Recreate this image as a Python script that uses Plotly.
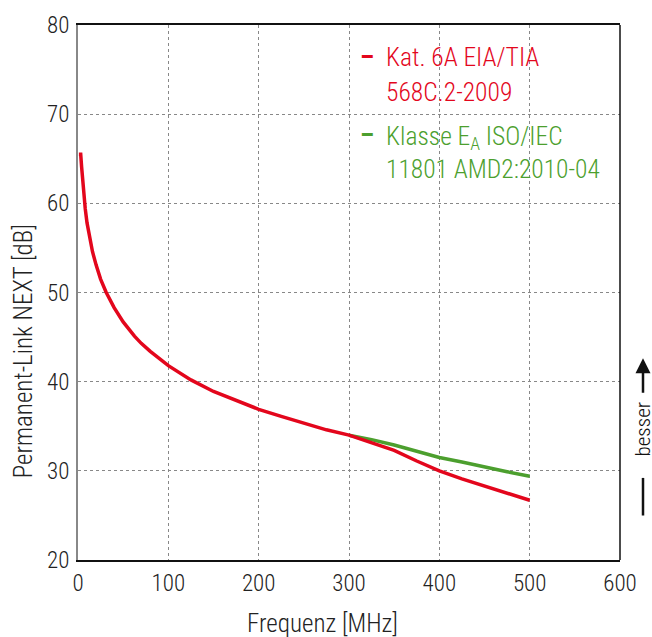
import plotly.graph_objects as go

# Data
freq_red = [1, 3, 4, 5, 6, 8, 10, 12, 16, 20, 25, 31.25, 40, 50, 62.5, 70, 80, 100, 125, 150, 175,
            200, 225, 250, 275, 300, 325, 350, 375, 400, 425, 450, 475, 500]
next_red = [65.5, 65.5, 64.1, 62.7, 61.4, 59.4, 57.8, 56.6, 54.6, 53.1, 51.5, 50.0, 48.3, 46.7, 45.1, 44.3, 43.4, 41.8, 40.2, 38.9, 37.9,
            36.9, 36.1, 35.3, 34.6, 34.0, 33.2, 32.3, 31.1, 30.0, 29.1, 28.3, 27.5, 26.7]
freq_green = [300, 325, 350, 375, 400, 425, 450, 475, 500]
next_green = [34.0, 33.5, 32.9, 32.2, 31.5, 31.0, 30.4, 29.9, 29.4]

x_ticks = [0, 100, 200, 300, 400, 500, 600]
y_ticks = [20, 30, 40, 50, 60, 70, 80]

RED = "#E3061C"
GREEN = "#4C9F2E"
FONT = "Roboto Condensed, Liberation Sans Narrow, sans-serif"
WEIGHT = 300

W, H = 652, 637
L, R, T, B = 78, 32, 19, 77

fig = go.Figure()
fig.add_trace(go.Scatter(x=freq_green, y=next_green, mode="lines",
                         line=dict(color=GREEN, width=3.5), showlegend=False))
fig.add_trace(go.Scatter(x=freq_red, y=next_red, mode="lines",
                         line=dict(color=RED, width=3.5), showlegend=False))

def px2paper(px, py):
    return (px - L) / (W - L - R), (H - B - py) / (H - T - B)

annotations = []
def text_ann(px, py, text, color, size=25.5, xanchor="left", angle=0, weight=WEIGHT):
    x, y = px2paper(px, py)
    annotations.append(dict(x=x, y=y, xref="paper", yref="paper", text=text,
                            showarrow=False, xanchor=xanchor, yanchor="middle",
                            textangle=angle,
                            font=dict(family=FONT, size=size, color=color, weight=weight)))

# legend-like labels
text_ann(358, 51, "–", RED, weight=700)
text_ann(384, 51, "Kat. 6A EIA/TIA", RED)
text_ann(384, 87, "568C.2-2009", RED)
text_ann(358, 130, "–", GREEN, weight=700)
text_ann(384, 133, "Klasse E<sub>A</sub> ISO/IEC", GREEN)
text_ann(384, 165, "11801 AMD2:2010-04", GREEN)

# axis titles
text_ann(322, 624, "Frequenz [MHz]", "#222", size=25, xanchor="center")
text_ann(23, 349, "Permanent-Link NEXT [dB]", "#222", size=25, xanchor="center", angle=-90)

# besser indicator
text_ann(643, 428, "besser", "#111", size=21, xanchor="center", angle=-90)
ax0, ay0 = px2paper(643, 356)
annotations.append(dict(x=ax0, y=ay0, xref="paper", yref="paper", text="",
                        showarrow=True, ax=0, ay=36, arrowhead=2, arrowsize=1.2,
                        arrowwidth=2.5, arrowcolor="#111"))

shapes = []
bx, by0 = px2paper(643, 477)
_, by1 = px2paper(643, 515)
shapes.append(dict(type="line", xref="paper", yref="paper", x0=bx, x1=bx, y0=by0, y1=by1,
                   line=dict(color="#111", width=2.5)))
# right border in black
shapes.append(dict(type="line", xref="paper", yref="paper", x0=1, x1=1, y0=0, y1=1,
                   line=dict(color="#111", width=1.5)))

tickfont = dict(family=FONT, size=23, color="#222", weight=WEIGHT)
fig.update_layout(
    width=W, height=H,
    margin=dict(l=L, r=R, t=T, b=B),
    paper_bgcolor="white", plot_bgcolor="white",
    font=dict(family=FONT, size=23, color="#222", weight=WEIGHT),
    annotations=annotations, shapes=shapes,
    xaxis=dict(range=[0, 600], tickvals=x_ticks, showgrid=True, gridcolor="#888",
               griddash="dot", gridwidth=1, showline=True, linecolor="#111", linewidth=1.5,
               mirror=True, ticks="", zeroline=False, ticklabelstandoff=2,
               tickfont=tickfont),
    yaxis=dict(range=[20, 80], tickvals=y_ticks, showgrid=True, gridcolor="#888",
               griddash="dot", gridwidth=1, showline=True, linecolor="#888", linewidth=2,
               ticks="", zeroline=False, ticklabelstandoff=2,
               tickfont=tickfont),
)

fig.write_html("out.html", config={"displayModeBar": False},
               post_script="document.body.style.margin='0px';document.body.style.padding='0px';")
